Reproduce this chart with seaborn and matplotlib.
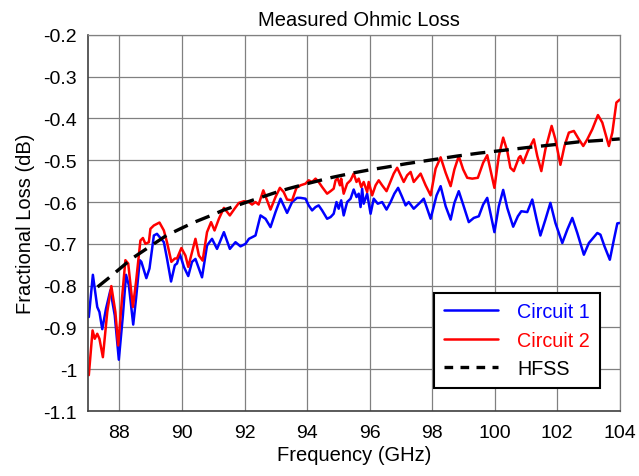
import numpy as np
import seaborn as sns
import matplotlib.pyplot as plt
from matplotlib.ticker import FuncFormatter

# Circuit 1 (blue)
c1_freq = [87.02, 87.15, 87.29, 87.36, 87.45, 87.57, 87.71, 87.85, 87.98, 88.11,
           88.21, 88.30, 88.44, 88.53, 88.65, 88.70, 88.86, 88.96, 89.10, 89.20,
           89.42, 89.52, 89.65, 89.77, 89.84, 89.93, 90.06, 90.20, 90.32, 90.43,
           90.64, 90.80, 90.96, 91.12, 91.34, 91.53, 91.71, 91.87, 92.03, 92.14,
           92.35, 92.51, 92.67, 92.83, 92.99, 93.15, 93.25, 93.36, 93.52, 93.68,
           93.79, 93.95, 94.05, 94.16, 94.27, 94.37, 94.48, 94.64, 94.75, 94.85,
           94.94, 95.01, 95.09, 95.17, 95.28, 95.39, 95.49, 95.58, 95.65, 95.71,
           95.76, 95.81, 95.92, 96.03, 96.13, 96.26, 96.40, 96.54, 96.67, 96.79,
           96.91, 97.04, 97.15, 97.25, 97.41, 97.63, 97.73, 97.95, 98.14, 98.27,
           98.43, 98.59, 98.71, 98.85, 98.99, 99.17, 99.33, 99.49, 99.63, 99.76,
           99.86, 99.99, 100.13, 100.27, 100.40, 100.59, 100.74, 100.85, 101.04, 101.20,
           101.34, 101.46, 101.62, 101.78, 101.94, 102.16, 102.32, 102.48, 102.64, 102.85,
           103.01, 103.28, 103.38, 103.51, 103.68, 103.81, 103.92, 104.00]
c1_loss = [-0.875, -0.774, -0.851, -0.863, -0.904, -0.855, -0.811, -0.871, -0.977, -0.871,
           -0.774, -0.799, -0.893, -0.831, -0.739, -0.743, -0.782, -0.759, -0.680, -0.676,
           -0.696, -0.735, -0.790, -0.751, -0.747, -0.724, -0.755, -0.777, -0.743, -0.736,
           -0.780, -0.704, -0.688, -0.712, -0.672, -0.712, -0.696, -0.706, -0.700, -0.688,
           -0.680, -0.632, -0.640, -0.660, -0.624, -0.592, -0.608, -0.626, -0.600, -0.590,
           -0.590, -0.592, -0.608, -0.620, -0.612, -0.608, -0.620, -0.640, -0.636, -0.628,
           -0.600, -0.616, -0.596, -0.632, -0.600, -0.592, -0.570, -0.588, -0.580, -0.612,
           -0.568, -0.604, -0.580, -0.628, -0.592, -0.604, -0.600, -0.618, -0.600, -0.580,
           -0.566, -0.588, -0.608, -0.600, -0.616, -0.600, -0.592, -0.640, -0.584, -0.562,
           -0.610, -0.642, -0.602, -0.574, -0.606, -0.648, -0.638, -0.634, -0.606, -0.590,
           -0.626, -0.672, -0.610, -0.571, -0.614, -0.659, -0.634, -0.622, -0.624, -0.594,
           -0.642, -0.680, -0.642, -0.602, -0.650, -0.698, -0.666, -0.638, -0.674, -0.726,
           -0.698, -0.674, -0.678, -0.706, -0.738, -0.690, -0.651, -0.650]

# Circuit 2 (red)
c2_freq = [87.02, 87.14, 87.21, 87.29, 87.36, 87.47, 87.61, 87.74, 87.87, 87.96,
           88.09, 88.19, 88.28, 88.43, 88.53, 88.67, 88.75, 88.83, 88.94, 88.99,
           89.10, 89.28, 89.42, 89.52, 89.66, 89.77, 89.84, 89.98, 90.11, 90.20,
           90.32, 90.43, 90.54, 90.66, 90.80, 90.93, 91.04, 91.18, 91.34, 91.53,
           91.68, 91.82, 91.98, 92.14, 92.24, 92.35, 92.45, 92.60, 92.70, 92.83,
           92.99, 93.13, 93.25, 93.36, 93.52, 93.66, 93.79, 93.95, 94.05, 94.16,
           94.27, 94.37, 94.48, 94.64, 94.75, 94.85, 94.91, 94.98, 95.05, 95.09,
           95.17, 95.28, 95.39, 95.49, 95.58, 95.65, 95.73, 95.81, 95.92, 95.97,
           96.08, 96.19, 96.29, 96.40, 96.54, 96.67, 96.77, 96.88, 96.99, 97.09,
           97.20, 97.31, 97.41, 97.63, 97.79, 97.95, 98.11, 98.27, 98.43, 98.59,
           98.71, 98.85, 98.99, 99.12, 99.28, 99.46, 99.63, 99.76, 99.86, 99.99,
           100.13, 100.27, 100.40, 100.50, 100.61, 100.77, 100.82, 100.91, 101.06, 101.25,
           101.36, 101.49, 101.62, 101.82, 101.94, 102.10, 102.23, 102.37, 102.53, 102.69,
           102.83, 102.96, 103.12, 103.30, 103.44, 103.65, 103.76, 103.89, 104.00]
c2_loss = [-1.014, -0.907, -0.927, -0.915, -0.927, -0.971, -0.863, -0.801, -0.863, -0.943,
           -0.823, -0.739, -0.747, -0.851, -0.791, -0.692, -0.686, -0.700, -0.696, -0.664,
           -0.656, -0.649, -0.668, -0.696, -0.743, -0.735, -0.735, -0.710, -0.728, -0.755,
           -0.720, -0.688, -0.728, -0.740, -0.672, -0.648, -0.668, -0.640, -0.614, -0.632,
           -0.616, -0.602, -0.598, -0.600, -0.606, -0.600, -0.606, -0.572, -0.592, -0.618,
           -0.588, -0.566, -0.576, -0.594, -0.596, -0.566, -0.560, -0.556, -0.548, -0.552,
           -0.544, -0.552, -0.564, -0.580, -0.574, -0.568, -0.548, -0.544, -0.560, -0.544,
           -0.580, -0.556, -0.548, -0.532, -0.552, -0.544, -0.564, -0.552, -0.576, -0.552,
           -0.584, -0.560, -0.548, -0.560, -0.574, -0.550, -0.532, -0.518, -0.536, -0.552,
           -0.536, -0.528, -0.552, -0.532, -0.560, -0.584, -0.520, -0.493, -0.530, -0.562,
           -0.522, -0.490, -0.522, -0.542, -0.544, -0.542, -0.506, -0.488, -0.522, -0.566,
           -0.490, -0.446, -0.478, -0.518, -0.526, -0.494, -0.490, -0.507, -0.478, -0.450,
           -0.490, -0.526, -0.474, -0.418, -0.450, -0.511, -0.466, -0.434, -0.430, -0.450,
           -0.466, -0.450, -0.426, -0.392, -0.410, -0.466, -0.434, -0.362, -0.355]

# HFSS simulation (black dashed)
hfss_freq = [87.3, 87.7, 88.4, 89.0, 89.5, 90.0, 90.4, 91.0, 91.3, 92.0, 92.4, 93.0,
             93.4, 94.0, 94.8, 95.5, 96.0, 96.5, 97.2, 98.0, 98.8, 99.5, 100.2,
             101.0, 101.5, 102.0, 102.7, 103.3, 104.0]
hfss_loss = [-0.803, -0.779, -0.735, -0.705, -0.680, -0.662, -0.648, -0.630, -0.620,
             -0.602, -0.592, -0.577, -0.568, -0.556, -0.541, -0.530, -0.523, -0.517,
             -0.508, -0.499, -0.490, -0.483, -0.477, -0.470, -0.466, -0.462, -0.456,
             -0.453, -0.449]

x_ticks = [88, 90, 92, 94, 96, 98, 100, 102, 104]
y_ticks = [-1.1, -1.0, -0.9, -0.8, -0.7, -0.6, -0.5, -0.4, -0.3, -0.2]

sns.set_theme(style="whitegrid")
plt.rcParams["font.family"] = ["Liberation Sans", "DejaVu Sans"]
plt.rcParams["axes.unicode_minus"] = False

fig = plt.figure(figsize=(6.39, 4.77), dpi=100)
ax = fig.add_axes([0.138, 0.136, 0.832, 0.789])

sns.lineplot(x=c1_freq, y=c1_loss, color="#0000ff", lw=1.8, label="Circuit 1",
             estimator=None, sort=False, ax=ax)
sns.lineplot(x=c2_freq, y=c2_loss, color="#ff0000", lw=1.8, label="Circuit 2",
             estimator=None, sort=False, ax=ax)
sns.lineplot(x=hfss_freq, y=hfss_loss, color="black", lw=2.4, ls=(0, (4.5, 2.6)),
             label="HFSS", estimator=None, sort=False, ax=ax)

ax.set_xlim(87, 104)
ax.set_ylim(-1.1, -0.2)
ax.set_xticks(x_ticks)
ax.set_yticks(y_ticks)
ax.yaxis.set_major_formatter(FuncFormatter(lambda v, _: f"{round(v, 1):g}"))
ax.tick_params(length=0, labelsize=14, colors="black")
ax.tick_params(axis="x", pad=9.5)
ax.tick_params(axis="y", pad=8)

ax.grid(True, color="#808080", lw=0.9)
for side in ["top", "right"]:
    ax.spines[side].set_color("#808080")
    ax.spines[side].set_linewidth(0.9)
for side in ["left", "bottom"]:
    ax.spines[side].set_color("#404040")
    ax.spines[side].set_linewidth(1.2)

ax.set_title("Measured Ohmic Loss", fontsize=14.5, pad=7, color="black", x=0.51)
ax.set_xlabel("Frequency (GHz)", fontsize=14.5, labelpad=3, color="black")
ax.set_ylabel("Fractional Loss (dB)", fontsize=14.5, labelpad=6, color="black")

leg = ax.legend(loc="lower right", bbox_to_anchor=(0.962, 0.061), borderaxespad=0,
                frameon=True, fancybox=False, edgecolor="black", framealpha=1,
                fontsize=14.2, handlelength=2.75, handletextpad=0.95, labelspacing=0.48,
                borderpad=0.5, labelcolor="linecolor")
leg.get_frame().set_linewidth(1.5)
leg.get_lines()[2].set_dashes((2.6, 2.2))

plt.savefig("out.png", dpi=100)
